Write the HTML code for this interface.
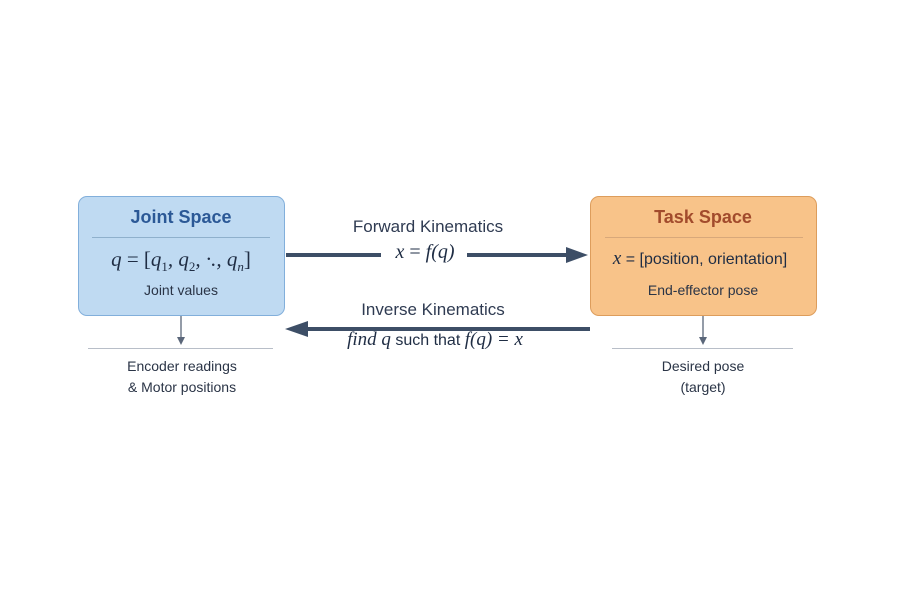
<!DOCTYPE html>
<html><head><meta charset="utf-8"><style>
body{margin:0;width:900px;height:600px;background:#fff;position:relative;overflow:hidden;font-family:"Liberation Sans",sans-serif}
.box{position:absolute;border-radius:9px;box-sizing:border-box}
.t{position:absolute;white-space:nowrap;text-align:center;transform:translateX(-50%)}
.m{font-family:"Liberation Serif",serif;font-style:italic}
.hl{position:absolute;height:1px}
</style></head><body>
<div class="box" style="left:78px;top:196px;width:207px;height:120px;background:#bfdaf2;border:1.5px solid #82afdb"></div>
<div class="hl" style="left:92px;top:237px;width:178px;background:#8fb0cc"></div>
<div class="t" style="left:181px;top:207px;font-size:18px;font-weight:bold;color:#2b5896">Joint Space</div>
<div class="t m" style="left:181px;top:247px;font-size:21px;color:#1f2d44">q <span style="font-style:normal">=</span> <span style="font-style:normal">[</span>q<sub style="font-size:13px;font-style:normal">1</sub>, q<sub style="font-size:13px;font-style:normal">2</sub>, ·., q<sub style="font-size:13px">n</sub><span style="font-style:normal">]</span></div>
<div class="t" style="left:181px;top:282px;font-size:14px;color:#2a3446">Joint values</div>

<div class="box" style="left:590px;top:196px;width:227px;height:120px;background:#f8c389;border:1.5px solid #dd9d5c"></div>
<div class="hl" style="left:605px;top:237px;width:198px;background:#d8a87a"></div>
<div class="t" style="left:703px;top:207px;font-size:18px;font-weight:bold;color:#a24b2c">Task Space</div>
<div class="t" style="left:700px;top:248px;font-size:16px;color:#1f2d44"><span class="m" style="font-size:19px">x</span> = [position, orientation]</div>
<div class="t" style="left:703px;top:282px;font-size:14px;color:#2a3446">End-effector pose</div>

<svg width="900" height="600" style="position:absolute;left:0;top:0">
<g stroke="#3d4e66" stroke-width="4" fill="none">
<line x1="286" y1="255" x2="381" y2="255"/>
<line x1="467" y1="255" x2="570" y2="255"/>
<line x1="305" y1="329" x2="590" y2="329"/>
</g>
<polygon points="588,255 566,247 566,263" fill="#3d4e66"/>
<polygon points="285,329 308,321 308,337" fill="#3d4e66"/>
<g stroke="#5b677a" stroke-width="1.3"><line x1="181" y1="316" x2="181" y2="338"/><line x1="703" y1="316" x2="703" y2="338"/></g>
<polygon points="181,345 177,337 185,337" fill="#5b677a"/>
<polygon points="703,345 699,337 707,337" fill="#5b677a"/>
<g stroke="#b8bec8" stroke-width="1"><line x1="88" y1="348.5" x2="273" y2="348.5"/><line x1="612" y1="348.5" x2="793" y2="348.5"/></g>
</svg>

<div class="t" style="left:428px;top:217px;font-size:17px;color:#2f3b52">Forward Kinematics</div>
<div class="t m" style="left:425px;top:241px;font-size:20px;color:#1f2d44">x <span style="font-style:normal">=</span> f(q)</div>
<div class="t" style="left:433px;top:300px;font-size:17px;color:#2f3b52">Inverse Kinematics</div>
<div class="t" style="left:435px;top:329px;font-size:16px;color:#1f2d44"><span class="m" style="font-size:19px">find q</span> such that <span class="m" style="font-size:19px">f(q) = x</span></div>

<div class="t" style="left:182px;top:356px;font-size:14px;line-height:21px;color:#2a3446">Encoder readings<br>&amp; Motor positions</div>
<div class="t" style="left:703px;top:356px;font-size:14px;line-height:21px;color:#2a3446">Desired pose<br>(target)</div>
</body></html>
